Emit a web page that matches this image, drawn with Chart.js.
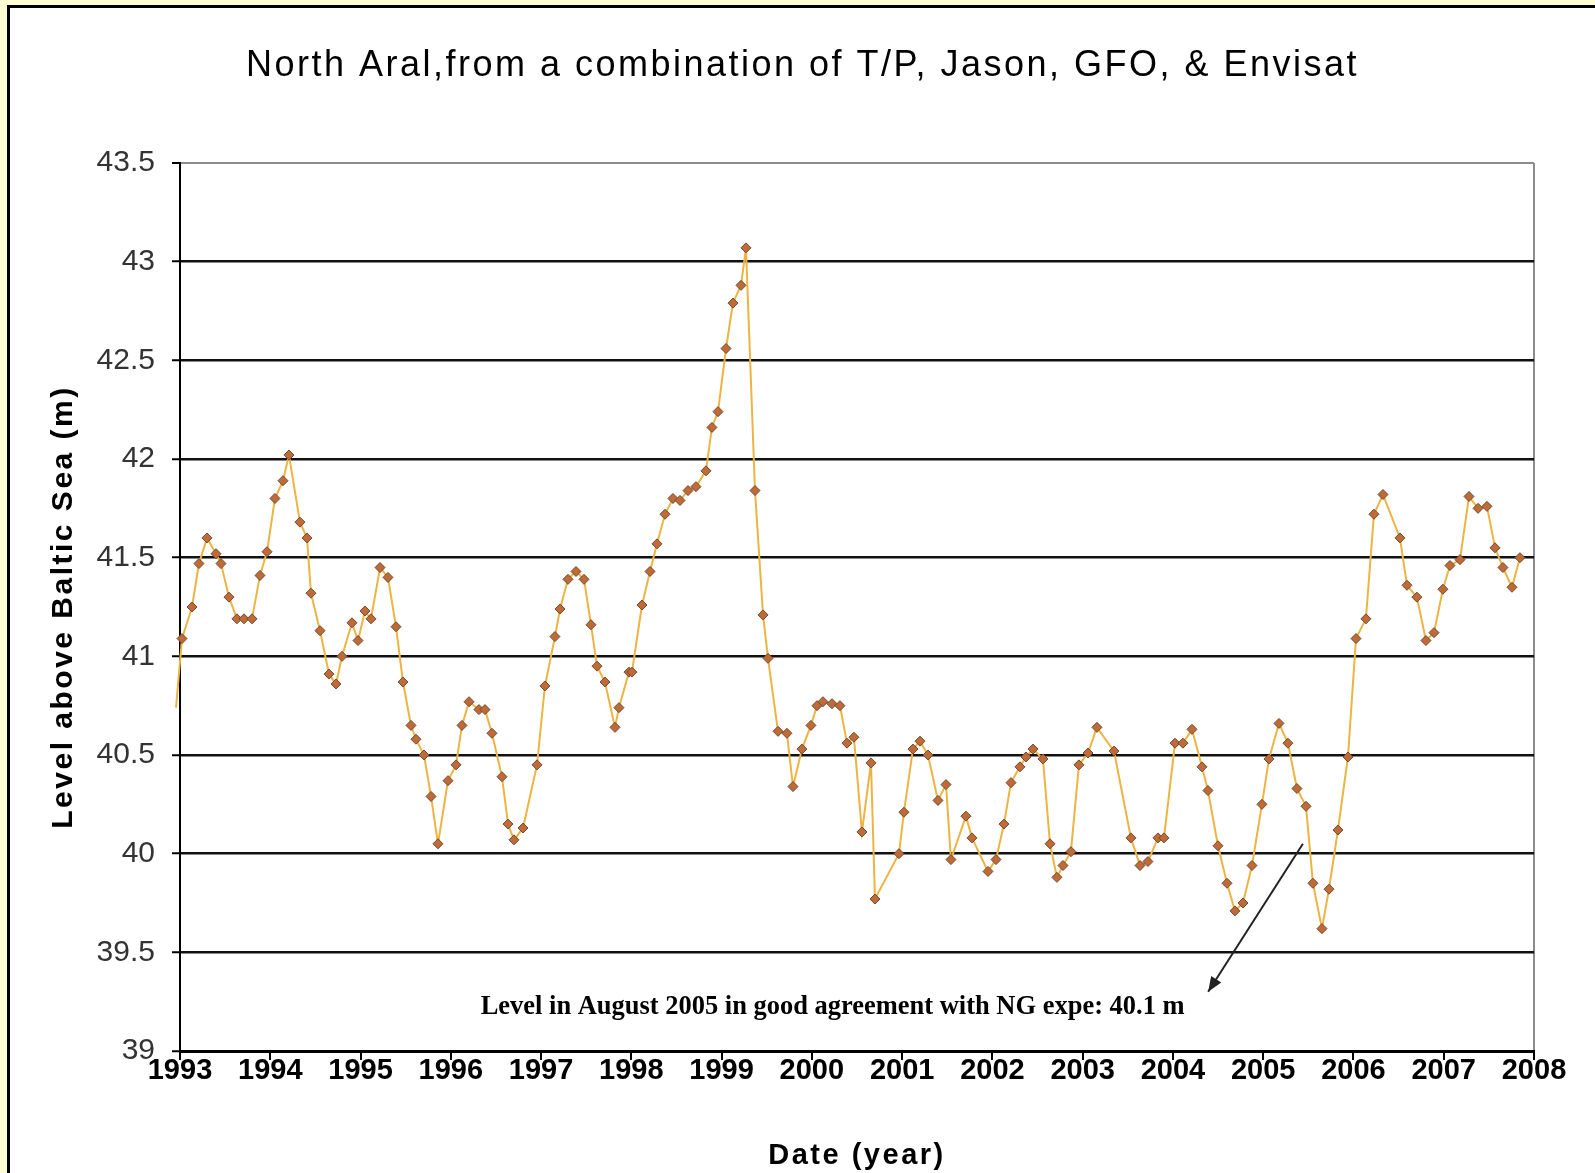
<!DOCTYPE html>
<html><head><meta charset="utf-8">
<script src="https://cdn.jsdelivr.net/npm/chart.js@4.4.1/dist/chart.umd.min.js"></script>
<style>
html,body{margin:0;padding:0;background:#FFFFD4;overflow:hidden;width:1595px;height:1173px;}
#frame{position:absolute;left:7px;top:5px;right:0;bottom:0;background:#fff;border-left:3px solid #000;border-top:3px solid #000;}
#c{position:absolute;left:0;top:0;}
</style></head><body>
<div id="frame"><canvas id="c" width="1585" height="1165"></canvas></div>
<script>
// ---- data ----
const chartTitle = 'North Aral,from a combination of T/P, Jason, GFO, & Envisat';
const xTitle = 'Date (year)';
const yTitle = 'Level above Baltic Sea (m)';
const note = 'Level in August 2005 in good agreement with NG expe: 40.1 m';
const xTicks = [1993,1994,1995,1996,1997,1998,1999,2000,2001,2002,2003,2004,2005,2006,2007,2008];
const yTicks = [39,39.5,40,40.5,41,41.5,42,42.5,43,43.5];
const dates = [1992.956,1993.022,1993.133,1993.210,1993.299,1993.399,1993.454,1993.543,1993.631,1993.709,
1993.798,1993.886,1993.964,1994.052,1994.141,1994.207,1994.329,1994.407,1994.451,1994.551,
1994.651,1994.728,1994.795,1994.905,1994.972,1995.049,1995.116,1995.216,1995.304,1995.393,
1995.470,1995.559,1995.614,1995.703,1995.781,1995.858,1995.969,1996.058,1996.124,1996.202,
1996.312,1996.379,1996.456,1996.567,1996.634,1996.700,1996.800,1996.955,1997.043,1997.154,
1997.210,1997.298,1997.387,1997.476,1997.553,1997.620,1997.708,1997.819,1997.863,1997.974,
1998.007,1998.118,1998.207,1998.284,1998.373,1998.461,1998.539,1998.628,1998.716,1998.827,
1998.893,1998.960,1999.049,1999.126,1999.215,1999.270,1999.370,1999.459,1999.514,1999.625,
1999.724,1999.791,1999.890,1999.990,2000.057,2000.123,2000.223,2000.311,2000.389,2000.466,
2000.555,2000.655,2000.699,2000.965,2001.020,2001.120,2001.198,2001.286,2001.397,2001.486,
2001.541,2001.707,2001.774,2001.951,2002.040,2002.128,2002.206,2002.305,2002.372,2002.450,
2002.560,2002.638,2002.715,2002.782,2002.870,2002.959,2003.059,2003.158,2003.347,2003.535,
2003.635,2003.723,2003.834,2003.901,2004.023,2004.111,2004.211,2004.322,2004.388,2004.499,
2004.599,2004.687,2004.776,2004.876,2004.986,2005.064,2005.175,2005.274,2005.374,2005.474,
2005.551,2005.651,2005.729,2005.828,2005.939,2006.028,2006.138,2006.227,2006.327,2006.515,
2006.593,2006.703,2006.803,2006.892,2006.991,2007.069,2007.180,2007.280,2007.380,2007.479,
2007.568,2007.656,2007.756,2007.844];
const levels = [40.74,41.09,41.25,41.47,41.60,41.52,41.47,41.30,41.19,41.19,
41.19,41.41,41.53,41.80,41.89,42.02,41.68,41.60,41.32,41.13,
40.91,40.86,41.00,41.17,41.08,41.23,41.19,41.45,41.40,41.15,
40.87,40.65,40.58,40.50,40.29,40.05,40.37,40.45,40.65,40.77,
40.73,40.73,40.61,40.39,40.15,40.07,40.13,40.45,40.85,41.10,
41.24,41.39,41.43,41.39,41.16,40.95,40.87,40.64,40.74,40.92,
40.92,41.26,41.43,41.57,41.72,41.80,41.79,41.84,41.86,41.94,
42.16,42.24,42.56,42.79,42.88,43.07,41.84,41.21,40.99,40.62,
40.61,40.34,40.53,40.65,40.75,40.77,40.76,40.75,40.56,40.59,
40.11,40.46,39.77,40.00,40.21,40.53,40.57,40.50,40.27,40.35,
39.97,40.19,40.08,39.91,39.97,40.15,40.36,40.44,40.49,40.53,
40.48,40.05,39.88,39.94,40.01,40.45,40.51,40.64,40.52,40.08,
39.94,39.96,40.08,40.08,40.56,40.56,40.63,40.44,40.32,40.04,
39.85,39.71,39.75,39.94,40.25,40.48,40.66,40.56,40.33,40.24,
39.85,39.62,39.82,40.12,40.49,41.09,41.19,41.72,41.82,41.60,
41.36,41.30,41.08,41.12,41.34,41.46,41.49,41.81,41.75,41.76,
41.55,41.45,41.35,41.50];
// annotation anchor points, in data units (year, level)
const noteAt = [2000.23, 39.22];
const arrowFrom = [2005.44, 40.05];
const arrowTo = [2004.39, 39.30];

const FAM = "'Liberation Sans', Arial, Helvetica, sans-serif";

const styler = {
  id: 'styler',
  beforeDraw(chart) { chart.ctx.letterSpacing = '2.5px'; },
  afterDatasetsDraw(chart) { chart.ctx.letterSpacing = '0px'; },
  afterDraw(chart) {
    const ctx = chart.ctx, xs = chart.scales.x, ys = chart.scales.y;
    ctx.save();
    ctx.letterSpacing = '0px';
    const x1 = xs.getPixelForValue(arrowFrom[0]), y1 = ys.getPixelForValue(arrowFrom[1]);
    const x2 = xs.getPixelForValue(arrowTo[0]), y2 = ys.getPixelForValue(arrowTo[1]);
    ctx.strokeStyle = '#222'; ctx.fillStyle = '#222'; ctx.lineWidth = 2;
    ctx.beginPath(); ctx.moveTo(x1, y1); ctx.lineTo(x2, y2); ctx.stroke();
    const a = Math.atan2(y2 - y1, x2 - x1), L = 15, W = 6;
    ctx.beginPath();
    ctx.moveTo(x2, y2);
    ctx.lineTo(x2 - L*Math.cos(a) + W*Math.sin(a), y2 - L*Math.sin(a) - W*Math.cos(a));
    ctx.lineTo(x2 - L*Math.cos(a) - W*Math.sin(a), y2 - L*Math.sin(a) + W*Math.cos(a));
    ctx.closePath(); ctx.fill();
    let size = 24;
    ctx.font = 'bold ' + size + "px 'Liberation Serif', 'Times New Roman', serif";
    const w = ctx.measureText(note).width;
    size = size * 704 / w;
    ctx.font = 'bold ' + size.toFixed(2) + "px 'Liberation Serif', 'Times New Roman', serif";
    ctx.fillStyle = '#000';
    ctx.textAlign = 'center'; ctx.textBaseline = 'middle';
    ctx.fillText(note, xs.getPixelForValue(noteAt[0]), ys.getPixelForValue(noteAt[1]));
    ctx.restore();
  }
};

new Chart(document.getElementById('c'), {
  type: 'line',
  data: {
    datasets: [{
      data: dates.map((d, i) => ({x: d, y: levels[i]})),
      borderColor: '#EDB443',
      borderWidth: 2,
      pointStyle: 'rectRot',
      pointRadius: c => (c.raw && c.raw.x < 1993) ? 0 : 5,
      pointBackgroundColor: '#C06A38',
      pointBorderColor: '#6E4A30',
      pointBorderWidth: 1,
      tension: 0,
      clip: false
    }]
  },
  options: {
    responsive: false,
    animation: false,
    layout: {padding: {left: 61, right: 61, top: 0, bottom: 0}},
    plugins: {
      legend: {display: false},
      tooltip: {enabled: false},
      title: {
        display: true, text: chartTitle, color: '#000',
        font: {family: FAM, size: 36, weight: 'normal'},
        padding: {top: 36, bottom: 75.8}
      }
    },
    scales: {
      x: {
        type: 'linear', min: 1993, max: 2008,
        afterFit: s => { s.height = 122; },
        afterBuildTicks: s => { s.ticks = xTicks.map(v => ({value: v})); },
        ticks: {z: 1, color: '#000', font: {family: FAM, size: 29, weight: 'bold'}, padding: -6,
                maxRotation: 0, autoSkip: false, callback: v => String(v)},
        grid: {
          drawOnChartArea: true,
          color: c => (c.tick && c.tick.value === 2008) ? '#8c8c8c' : 'rgba(0,0,0,0)',
          lineWidth: 2, tickColor: '#000', tickLength: 9, tickWidth: 2
        },
        border: {color: '#000', width: 3},
        title: {display: true, text: xTitle, color: '#000',
                font: {family: FAM, size: 29, weight: 'bold'}, padding: {top: 0, bottom: 0}}
      },
      y: {
        min: 39, max: 43.5,
        afterFit: s => { s.width = 109; },
        afterBuildTicks: s => { s.ticks = yTicks.map(v => ({value: v})); },
        ticks: {z: 1, color: '#333', font: {family: FAM, size: 30, weight: 'normal'}, padding: 17,
                callback: v => String(v)},
        grid: {
          color: c => (c.tick && c.tick.value === 43.5) ? '#8c8c8c' : '#111',
          lineWidth: c => (c.tick && c.tick.value === 43.5) ? 2 : 2.5,
          tickColor: '#000', tickLength: 8, tickWidth: 2
        },
        border: {color: '#000', width: 2},
        title: {display: true, text: yTitle, color: '#000',
                font: {family: FAM, size: 30, weight: 'bold'}, padding: {top: -25, bottom: 0}}
      }
    }
  },
  plugins: [styler]
});
</script>
</body></html>
